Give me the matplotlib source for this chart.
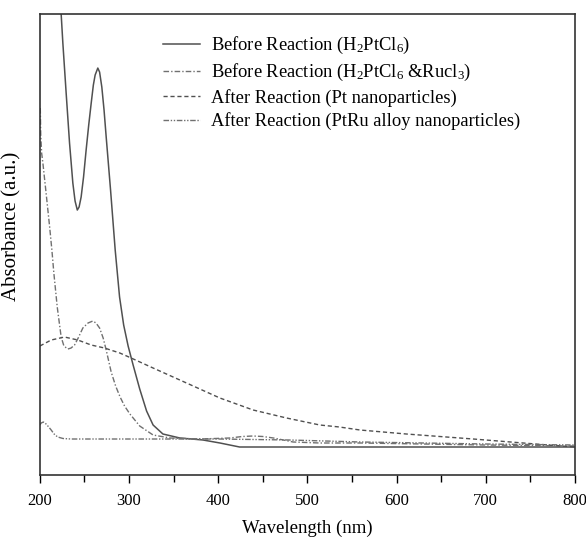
import numpy as np
import matplotlib
matplotlib.use("Agg")
import matplotlib.pyplot as plt
from matplotlib.ticker import MultipleLocator

plt.rcParams['font.family'] = ['Liberation Serif', 'DejaVu Serif']
plt.rcParams['mathtext.fontset'] = 'custom'
plt.rcParams['mathtext.rm'] = 'Liberation Serif'
plt.rcParams['mathtext.it'] = 'Liberation Serif:italic'

# Before reaction (H2PtCl6)
wl_a = [218, 222, 225.8, 229.5, 233.3, 237, 239.5, 242, 244, 246.3, 249, 251.9, 254.8,
        257.6, 260, 262, 265, 267, 269.5, 272, 274.4, 279.3, 284.5, 289.4, 294, 299,
        304.6, 312, 319.7, 327, 338, 357, 383, 402, 424, 500, 600, 700, 800]
abs_a = [5.6, 4.9, 4.32, 3.82, 3.32, 2.92, 2.74, 2.65, 2.68, 2.78, 2.98, 3.25, 3.5,
         3.72, 3.9, 4.0, 4.07, 4.03, 3.88, 3.65, 3.38, 2.85, 2.25, 1.78, 1.50, 1.29,
         1.10, 0.86, 0.64, 0.50, 0.41, 0.37, 0.35, 0.32, 0.28, 0.28, 0.28, 0.28, 0.28]

# Before reaction (H2PtCl6 & RuCl3)
wl_b = [200.5, 201, 202, 203.4, 207, 211, 213.5, 215.7, 219.5, 223.9, 227, 231.4, 235,
        238.9, 243, 248.2, 254, 259.4, 263, 267, 271, 274.4, 280, 285, 290, 295, 301, 312,
        327, 346, 380, 413, 427, 439, 450, 462, 484, 514, 560, 700, 800]
abs_b = [3.67, 3.4, 3.22, 3.12, 2.82, 2.48, 2.25, 2.02, 1.68, 1.38, 1.29, 1.26, 1.27,
         1.30, 1.37, 1.47, 1.52, 1.54, 1.52, 1.47, 1.37, 1.25, 1.03, 0.89, 0.78, 0.69, 0.61,
         0.49, 0.40, 0.37, 0.36, 0.37, 0.385, 0.39, 0.385, 0.37, 0.33, 0.32, 0.32, 0.30, 0.29]

# After reaction (Pt nanoparticles)
wl_c = [200, 212.7, 227.7, 242.6, 257.6, 272.5, 289.7, 302.4, 327, 364.5, 401.9, 439.2,
        476.7, 514, 536, 559, 611, 686, 742, 770, 800]
abs_c = [1.29, 1.35, 1.38, 1.35, 1.30, 1.27, 1.22, 1.17, 1.07, 0.92, 0.77, 0.65,
         0.57, 0.50, 0.48, 0.45, 0.41, 0.36, 0.32, 0.30, 0.28]

# After reaction (PtRu alloy nanoparticles)
wl_d = [200, 201.5, 204, 207, 210, 212.7, 216, 220, 226, 235, 260, 300, 400, 480,
        560, 700, 800]
abs_d = [0.50, 0.52, 0.53, 0.51, 0.48, 0.45, 0.41, 0.38, 0.365, 0.36, 0.36, 0.36, 0.36,
         0.35, 0.33, 0.31, 0.30]

labels = [r'Before Reaction (H$_2$PtCl$_6$)',
          r'Before Reaction (H$_2$PtCl$_6$ &Rucl$_3$)',
          'After Reaction (Pt nanoparticles)',
          'After Reaction (PtRu alloy nanoparticles)']

fig = plt.figure(figsize=(5.86, 5.41), dpi=100)
ax = fig.add_axes([0.068, 0.122, 0.913, 0.852])

ax.plot(wl_a, abs_a, color='#505050', lw=1.1, ls='-', label=labels[0])
ax.plot(wl_b, abs_b, color='#707070', lw=1.0, ls=(0, (4, 1.5, 1, 1.5)), label=labels[1])
ax.plot(wl_c, abs_c, color='#505050', lw=1.0, ls=(0, (3, 2)), label=labels[2])
ax.plot(wl_d, abs_d, color='#707070', lw=1.0, ls=(0, (4, 1.2, 1, 1.2, 1, 1.2)), label=labels[3])

ax.set_xlim(200, 800)
ax.set_ylim(0, 4.61)
ax.xaxis.set_major_locator(MultipleLocator(100))
ax.xaxis.set_minor_locator(MultipleLocator(50))
ax.tick_params(axis='x', which='major', direction='out', length=6, width=1, labelsize=12, pad=7)
ax.tick_params(axis='x', which='minor', direction='out', length=5, width=1)
ax.set_yticks([])
for s in ax.spines.values():
    s.set_linewidth(1.2)
    s.set_color('#333333')

ax.set_xlabel('Wavelength (nm)', fontsize=13.5, labelpad=8)
ax.set_ylabel('Absorbance (a.u.)', fontsize=15)
ax.yaxis.set_label_coords(-0.034, 0.54)

ax.legend(loc='upper left', bbox_to_anchor=(0.2, 0.99), frameon=False, fontsize=13.3,
          handlelength=2.0, handletextpad=0.55, labelspacing=0.3)

fig.savefig('out.png', dpi=100)
